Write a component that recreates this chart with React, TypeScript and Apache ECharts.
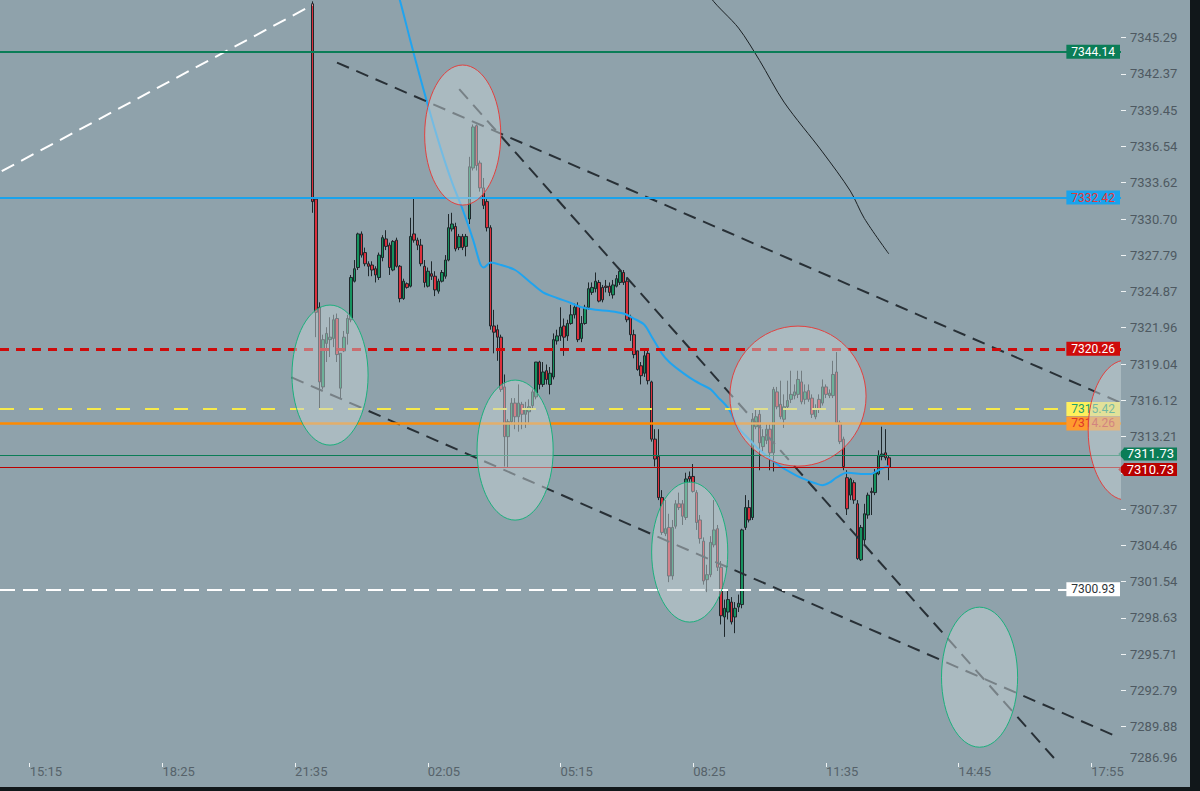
import React, { useEffect, useRef } from "react";
import * as echarts from "echarts";

// ---------- axes ----------
const SLOT_COUNT = 321;
const categories = Array.from({ length: SLOT_COUNT }, (_, i) => String(i));
const xTickLabels = ["15:15", "18:25", "21:35", "02:05", "05:15", "08:25", "11:35", "14:45", "17:55"];
const X_TICK_FIRST = 8;
const X_TICK_STEP = 38;

const yTickLabels = [
  7286.96, 7289.88, 7292.79, 7295.71, 7298.63, 7301.54, 7304.46, 7307.37, 7310.29, 7313.21, 7316.12,
  7319.04, 7321.96, 7324.87, 7327.79, 7330.7, 7333.62, 7336.54, 7339.45, 7342.37, 7345.29,
];
// the 7310.29 label sits under the last-price tag in the reference
const hiddenYLabels = [7310.29];
const Y_MIN = 7286.96;
const Y_MAX = 7348.31;

// ---------- candles (5 min bars, first bar at slot 89) ----------
const CANDLE_START = 89;
const opens = [
  7348.0, 7332.3, 7323.6, 7317.2, 7320.7, 7321.0, 7321.1, 7322.7, 7317.1, 7320.1,
  7321.5, 7322.6, 7325.7, 7326.8, 7329.5, 7328.0, 7327.1, 7327.0, 7326.7, 7326.0,
  7327.6, 7329.1, 7328.6, 7326.6, 7329.0, 7326.9, 7324.3, 7325.5, 7325.3, 7329.5,
  7329.0, 7328.6, 7326.9, 7325.3, 7326.3, 7326.1, 7324.9, 7325.7, 7326.1, 7327.4,
  7329.9, 7330.1, 7328.4, 7329.3, 7328.5, 7330.7, 7334.8, 7338.2, 7335.2, 7333.2,
  7332.1, 7330.0, 7322.1, 7321.8, 7321.2, 7317.2, 7313.2, 7314.4, 7315.9, 7314.8,
  7315.8, 7315.0, 7315.2, 7315.7, 7316.4, 7319.2, 7317.4, 7318.5, 7317.4, 7318.0,
  7320.9, 7321.3, 7322.1, 7321.3, 7322.3, 7323.0, 7323.7, 7321.1, 7322.3, 7323.6,
  7324.8, 7325.1, 7325.6, 7325.2, 7325.3, 7325.3, 7324.6, 7325.3, 7325.6, 7326.4,
  7325.7, 7322.8, 7321.4, 7320.1, 7318.9, 7318.3, 7319.9, 7317.6, 7313.0, 7311.6,
  7308.3, 7305.4, 7305.9, 7302.0, 7306.0, 7307.8, 7307.8, 7306.7, 7310.0, 7310.0,
  7308.7, 7306.5, 7304.8, 7301.7, 7302.1, 7304.5, 7305.8, 7302.7, 7298.7, 7299.1,
  7299.9, 7298.7, 7299.5, 7299.7, 7305.9, 7307.5, 7306.7, 7314.0, 7315.0, 7312.4,
  7312.9, 7313.8, 7311.9, 7316.8, 7315.8, 7314.6, 7315.6, 7316.2, 7316.5, 7316.6,
  7317.6, 7316.2, 7316.9, 7316.3, 7314.8, 7316.2, 7315.9, 7317.2, 7316.5, 7316.5,
  7318.4, 7314.3, 7313.0, 7309.9, 7308.5, 7309.5, 7307.8, 7303.3, 7304.9, 7306.9,
  7308.8, 7308.7, 7310.2, 7311.6, 7311.9, 7311.5,
];
const closes = [
  7332.1, 7323.2, 7317.6, 7321.0, 7321.5, 7321.2, 7322.6, 7319.8, 7319.9, 7321.2,
  7322.7, 7326.0, 7326.7, 7329.5, 7327.8, 7327.1, 7326.9, 7326.6, 7326.2, 7327.8,
  7329.2, 7328.5, 7326.8, 7328.9, 7326.9, 7324.3, 7325.7, 7325.2, 7329.3, 7329.0,
  7328.6, 7327.1, 7325.6, 7326.5, 7326.1, 7325.0, 7325.7, 7326.4, 7327.4, 7330.0,
  7330.3, 7328.3, 7329.3, 7328.4, 7329.3, 7334.9, 7338.1, 7335.0, 7333.2, 7331.8,
  7330.0, 7322.1, 7321.6, 7321.2, 7317.0, 7313.2, 7314.4, 7315.9, 7314.8, 7315.9,
  7315.0, 7315.4, 7315.6, 7316.8, 7319.2, 7317.4, 7318.4, 7317.8, 7318.3, 7321.0,
  7321.3, 7322.0, 7321.2, 7322.3, 7323.0, 7323.6, 7321.0, 7322.3, 7323.6, 7325.1,
  7325.2, 7325.7, 7324.1, 7324.2, 7325.2, 7324.8, 7325.4, 7325.9, 7326.5, 7325.6,
  7322.6, 7321.4, 7319.8, 7318.6, 7318.1, 7319.7, 7317.7, 7313.0, 7311.4, 7308.3,
  7305.5, 7305.8, 7302.0, 7305.9, 7307.8, 7307.5, 7306.8, 7309.8, 7309.8, 7308.8,
  7306.3, 7305.0, 7301.6, 7302.1, 7304.7, 7305.7, 7302.7, 7298.8, 7299.4, 7300.1,
  7298.3, 7299.4, 7299.8, 7305.7, 7307.5, 7306.5, 7314.6, 7314.8, 7312.7, 7313.2,
  7313.8, 7311.9, 7317.0, 7315.6, 7314.8, 7315.6, 7316.1, 7316.6, 7316.8, 7317.8,
  7316.0, 7316.8, 7316.2, 7315.0, 7315.4, 7315.4, 7317.2, 7316.6, 7316.7, 7318.2,
  7314.3, 7312.8, 7310.8, 7307.4, 7309.8, 7308.1, 7303.4, 7305.9, 7307.0, 7308.5,
  7308.7, 7310.3, 7311.7, 7311.8, 7311.5, 7310.73,
];
const lows = [
  7331.2, 7321.2, 7315.5, 7317.0, 7319.2, 7319.6, 7320.4, 7319.2, 7316.3, 7320.0,
  7320.6, 7322.4, 7325.6, 7326.6, 7327.6, 7326.9, 7326.1, 7326.1, 7325.6, 7325.8,
  7327.3, 7328.2, 7326.2, 7326.5, 7326.8, 7324.0, 7324.2, 7325.1, 7325.2, 7328.8,
  7328.2, 7326.9, 7325.2, 7325.2, 7325.8, 7324.5, 7324.7, 7325.6, 7325.9, 7327.3,
  7329.7, 7328.1, 7328.2, 7328.2, 7327.7, 7330.3, 7334.6, 7334.6, 7332.9, 7331.5,
  7329.7, 7321.8, 7319.9, 7319.3, 7316.8, 7310.8, 7310.7, 7314.2, 7313.8, 7313.6,
  7313.8, 7313.9, 7314.2, 7315.4, 7316.2, 7317.0, 7317.2, 7317.4, 7316.6, 7317.8,
  7320.6, 7320.9, 7319.7, 7320.9, 7322.2, 7322.7, 7320.8, 7320.8, 7322.2, 7323.4,
  7324.6, 7324.8, 7324.0, 7324.0, 7324.8, 7324.5, 7324.3, 7325.2, 7325.4, 7325.4,
  7322.4, 7320.9, 7319.5, 7318.5, 7317.4, 7318.0, 7317.4, 7312.8, 7310.8, 7308.1,
  7305.3, 7305.2, 7301.5, 7301.7, 7305.8, 7307.3, 7306.1, 7306.5, 7309.5, 7308.7,
  7305.7, 7304.6, 7301.3, 7300.7, 7301.9, 7304.3, 7302.4, 7298.1, 7297.1, 7298.5,
  7298.1, 7297.4, 7299.1, 7299.4, 7305.7, 7306.3, 7306.5, 7313.8, 7310.5, 7312.0,
  7312.6, 7310.5, 7310.4, 7315.4, 7314.6, 7313.9, 7315.4, 7315.9, 7316.2, 7316.3,
  7315.8, 7315.8, 7316.0, 7314.7, 7314.6, 7315.1, 7315.7, 7316.3, 7316.3, 7316.3,
  7314.2, 7312.6, 7310.5, 7306.9, 7308.1, 7307.8, 7303.3, 7303.2, 7304.5, 7306.6,
  7306.9, 7308.5, 7310.1, 7311.3, 7311.3, 7309.7,
];
const highs = [
  7348.2, 7332.3, 7324.0, 7321.4, 7322.0, 7322.8, 7323.0, 7323.1, 7319.9, 7321.7,
  7323.0, 7326.2, 7327.4, 7329.6, 7329.7, 7328.4, 7327.3, 7327.3, 7326.9, 7328.0,
  7329.4, 7329.8, 7328.8, 7329.0, 7329.2, 7327.0, 7325.9, 7325.6, 7330.8, 7332.4,
  7329.2, 7329.1, 7327.4, 7326.8, 7327.3, 7326.5, 7325.9, 7326.6, 7327.8, 7331.1,
  7331.2, 7330.4, 7329.5, 7329.5, 7329.5, 7335.7, 7338.3, 7338.3, 7335.4, 7334.0,
  7332.3, 7330.2, 7323.4, 7322.2, 7321.4, 7318.2, 7314.6, 7316.3, 7316.3, 7317.4,
  7316.0, 7316.0, 7316.2, 7317.0, 7319.2, 7319.3, 7319.2, 7319.0, 7318.8, 7321.5,
  7321.8, 7323.6, 7322.7, 7322.6, 7323.8, 7323.9, 7324.0, 7322.9, 7323.8, 7325.6,
  7325.6, 7326.4, 7325.8, 7325.4, 7325.8, 7325.6, 7325.8, 7326.2, 7326.6, 7326.6,
  7326.0, 7323.0, 7321.8, 7320.1, 7319.2, 7320.1, 7320.2, 7317.7, 7313.8, 7313.8,
  7308.9, 7308.1, 7307.0, 7306.5, 7308.1, 7308.7, 7308.1, 7310.3, 7310.4, 7311.0,
  7308.9, 7306.9, 7305.1, 7302.9, 7305.2, 7308.1, 7306.1, 7303.2, 7300.1, 7300.9,
  7300.3, 7299.9, 7300.5, 7305.8, 7308.5, 7308.1, 7315.1, 7315.4, 7315.4, 7313.8,
  7314.2, 7314.2, 7317.2, 7317.2, 7317.7, 7316.6, 7317.7, 7318.5, 7317.4, 7318.5,
  7318.5, 7317.4, 7317.4, 7316.6, 7315.8, 7316.6, 7317.8, 7317.4, 7317.0, 7319.3,
  7320.0, 7314.5, 7313.2, 7310.5, 7309.9, 7309.7, 7308.1, 7306.1, 7307.8, 7308.7,
  7309.1, 7310.6, 7312.1, 7314.0, 7313.8, 7311.7,
];

// ---------- moving averages ----------
const emaSlots = [
  111, 114, 117, 120, 123, 126, 129, 132, 135, 137, 138, 140, 143, 147, 151, 155, 159, 163, 166, 170,
  174, 178, 181, 184, 186, 189, 191, 194, 197, 200, 203, 205, 208, 211, 214, 216, 218, 221, 223, 226,
  228, 231, 233, 235, 237, 239, 242, 244, 246, 249, 251, 254,
];
const emaValues = [
  7351.0, 7348.3, 7345.05, 7341.9, 7338.9, 7336.1, 7333.6, 7331.45, 7329.0, 7327.1, 7326.8, 7327.2,
  7327.0, 7326.6, 7325.7, 7324.8, 7324.35, 7323.95, 7323.6, 7323.4, 7323.3, 7323.1, 7322.7, 7322.2,
  7321.3, 7319.9, 7319.25, 7318.55, 7317.95, 7317.45, 7317.0, 7316.4, 7315.5, 7313.9, 7313.0, 7312.4,
  7311.9, 7311.2, 7310.8, 7310.3, 7310.0, 7309.65, 7309.45, 7309.3, 7309.5, 7309.9, 7310.3, 7310.25,
  7310.2, 7310.2, 7310.5, 7310.85,
];
const slowSlots = [201, 203, 211, 217, 224, 235, 243, 247, 254];
const slowValues = [7350.0, 7348.5, 7346.05, 7343.45, 7340.1, 7336.1, 7332.95, 7330.75, 7327.9];

// ---------- drawn trend lines [slot, price] ----------
const upperChannel = [[96, 7343.28], [320, 7315.98]];
const steepLine = [[131, 7341.14], [302, 7287.14]];
const lowerChannel = [[83, 7317.96], [320, 7289.0]];
const whiteTrend = [[0, 7334.55], [89, 7347.91]];

// ---------- price levels ----------
const levelPrices = [7344.14, 7332.42, 7320.26, 7315.42, 7314.26, 7311.73, 7310.73, 7300.93];

// ---------- ellipses: centre slot, centre price, half width (slots), half height (price) ----------
const ellipseSlots = [94, 132, 147, 197, 228, 322, 280];
const ellipsePrices = [7318.15, 7337.45, 7312.12, 7303.92, 7316.46, 7313.73, 7293.86];
const ellipseHalfSlots = [10.9, 10.9, 10.9, 10.9, 19.5, 10.9, 10.9];
const ellipseHalfPrices = [5.63, 5.63, 5.63, 5.63, 5.63, 5.63, 5.63];
const ellipseKinds = ["support", "resistance", "support", "support", "resistance", "resistance", "support"];

const levelStyles = [
  { line: "#0b7d57", width: 2, type: "solid", bg: "#0b7d57", fg: "#ffffff", axis: false, dy: 0 },
  { line: "#1aa3ec", width: 2, type: "solid", bg: "#1aa3ec", fg: "#e5393a", axis: false, dy: 0 },
  { line: "#cf0a0a", width: 3, type: [9, 7], bg: "#cf0a0a", fg: "#ffffff", axis: false, dy: 0 },
  { line: "#f7ea4a", width: 2, type: [14, 15], bg: "#fff05c", fg: "#1fa06c", axis: false, dy: 0 },
  { line: "#ff8a00", width: 2.5, type: "solid", bg: "#ff9a2e", fg: "#e0352b", axis: false, dy: 0 },
  { line: "#0b7d57", width: 1, type: "solid", bg: "#0b7d57", fg: "#ffffff", axis: true, dy: -1 },
  { line: "#bb0000", width: 1, type: "solid", bg: "#b80000", fg: "#ffffff", axis: true, dy: 2 },
  { line: "#ffffff", width: 2, type: [15, 8], bg: "#ffffff", fg: "#2d3539", axis: false, dy: 0 },
];

const FONT = "Roboto, 'Noto Sans', sans-serif";

function buildOption() {
  const candleData = categories.map((_, i) => {
    const k = i - CANDLE_START;
    return k >= 0 && k < opens.length ? [opens[k], closes[k], lows[k], highs[k]] : "-";
  });
  const isTick = (index: number) => index >= X_TICK_FIRST && (index - X_TICK_FIRST) % X_TICK_STEP === 0;

  const markLineData = levelPrices.map((p, i) => {
    const s = levelStyles[i];
    return {
      yAxis: p,
      lineStyle: { color: s.line, width: s.width, type: s.type },
      label: s.axis
        ? { show: false }
        : {
            show: true,
            position: "insideEnd",
            distance: 1,
            formatter: p.toFixed(2),
            backgroundColor: s.bg,
            color: s.fg,
            fontFamily: FONT,
            fontSize: 12,
            lineHeight: 14,
            padding: [0, 5, 0, 5],
          },
    };
  });
  const axisTags = levelPrices.map((p, i) => ({ p, s: levelStyles[i] })).filter((d) => d.s.axis);
  const markPointData = [
    ...axisTags.map((d) => ({
      coord: [SLOT_COUNT - 1, d.p],
      symbol: "triangle",
      symbolSize: [12, 6],
      symbolRotate: 90,
      symbolOffset: [2, d.s.dy],
      itemStyle: { color: d.s.bg },
      label: { show: false },
    })),
    ...axisTags.map((d) => ({
      coord: [SLOT_COUNT - 1, d.p],
      symbol: "rect",
      symbolSize: 1,
      itemStyle: { color: "rgba(0,0,0,0)" },
      label: {
        show: true,
        position: "right",
        distance: 4,
        offset: [0, d.s.dy],
        formatter: d.p.toFixed(2),
        backgroundColor: d.s.bg,
        color: d.s.fg,
        fontFamily: FONT,
        fontSize: 13,
        lineHeight: 13,
        padding: [0, 3, 0, 3],
      },
    })),
  ];

  const dashed = (data: number[][], color: string, dash: number[], z: number) => ({
    type: "line",
    data,
    symbol: "none",
    silent: true,
    z,
    lineStyle: { color, width: 2, type: dash },
  });

  return {
    animation: false,
    backgroundColor: "#8fa2ab",
    textStyle: { fontFamily: FONT },
    grid: { left: 0, top: 0, right: 69, bottom: 24, containLabel: false },
    xAxis: {
      type: "category",
      data: categories,
      boundaryGap: true,
      axisLine: { show: false },
      axisTick: { show: true, alignWithLabel: true, interval: isTick, length: 4, lineStyle: { color: "#eef2f3" } },
      axisLabel: {
        interval: isTick,
        formatter: (v: string) => xTickLabels[(Number(v) - X_TICK_FIRST) / X_TICK_STEP] ?? "",
        align: "left",
        color: "#56626a",
        fontSize: 13,
        fontFamily: FONT,
        margin: 2,
      },
      splitLine: { show: false },
    },
    yAxis: {
      type: "value",
      position: "right",
      min: Y_MIN,
      max: Y_MAX,
      splitLine: { show: false },
      axisLine: { show: false },
      axisTick: {
        show: true,
        length: 5,
        lineStyle: { color: "#eef2f3" },
        customValues: yTickLabels.slice(1),
      },
      axisLabel: {
        customValues: yTickLabels.filter((v) => !hiddenYLabels.includes(v)),
        formatter: (v: number) => (Math.abs(v - Y_MIN) < 1e-6 ? `{b|${v.toFixed(2)}}` : v.toFixed(2)),
        rich: { b: { padding: [0, 0, 12, 0], color: "#4e5961", fontSize: 13, fontFamily: FONT } },
        color: "#4e5961",
        fontSize: 13,
        fontFamily: FONT,
        margin: 9,
      },
    },
    series: [
      {
        type: "candlestick",
        data: candleData,
        barWidth: 3,
        z: 2,
        itemStyle: {
          color: "#17925f",
          color0: "#dc2f3c",
          borderColor: "#1e272b",
          borderColor0: "#1e272b",
          borderWidth: 1,
        },
      },
      {
        type: "line",
        data: emaSlots.map((x, i) => [x, emaValues[i]]),
        smooth: 0.3,
        symbol: "none",
        silent: true,
        z: 3,
        lineStyle: { color: "#20a4ef", width: 2 },
        markLine: { symbol: ["none", "none"], silent: true, animation: false, data: markLineData },
        markPoint: { silent: true, animation: false, data: markPointData },
      },
      {
        type: "line",
        data: slowSlots.map((x, i) => [x, slowValues[i]]),
        smooth: 0.3,
        symbol: "none",
        silent: true,
        z: 3,
        lineStyle: { color: "#1b2124", width: 1 },
      },
      dashed(whiteTrend, "#ffffff", [14, 8], 4),
      dashed(upperChannel, "#283036", [13, 8], 4),
      dashed(steepLine, "#283036", [13, 8], 4),
      dashed(lowerChannel, "#283036", [13, 8], 4),
      {
        type: "custom",
        z: 10,
        clip: true,
        silent: true,
        encode: { x: 0, y: 1 },
        data: ellipseSlots.map((x, i) => [x, ellipsePrices[i], ellipseHalfSlots[i], ellipseHalfPrices[i]]),
        renderItem: (params: any, api: any) => {
          const x = api.value(0);
          const y = api.value(1);
          const c = api.coord([x, y]);
          const t = api.coord([x, y + api.value(3)]);
          const band = api.size([1, 0])[0];
          const kind = ellipseKinds[params.dataIndex];
          return {
            type: "ellipse",
            shape: { cx: c[0], cy: c[1], rx: api.value(2) * band, ry: Math.abs(c[1] - t[1]) },
            style: {
              fill: "rgba(198,210,214,0.5)",
              stroke: kind === "resistance" ? "#e2413f" : "#1bb07d",
              lineWidth: 1,
            },
          };
        },
      },
    ],
  };
}

export default function App() {
  const ref = useRef<HTMLDivElement>(null);
  useEffect(() => {
    if (!ref.current) return;
    const chart = echarts.init(ref.current, null, { renderer: "svg" });
    chart.setOption(buildOption() as any);
    return () => chart.dispose();
  }, []);
  return (
    <div style={{ position: "fixed", left: 0, top: 0, width: 1200, height: 791, background: "#11171a" }}>
      <div ref={ref} style={{ width: 1190, height: 787 }} />
    </div>
  );
}
